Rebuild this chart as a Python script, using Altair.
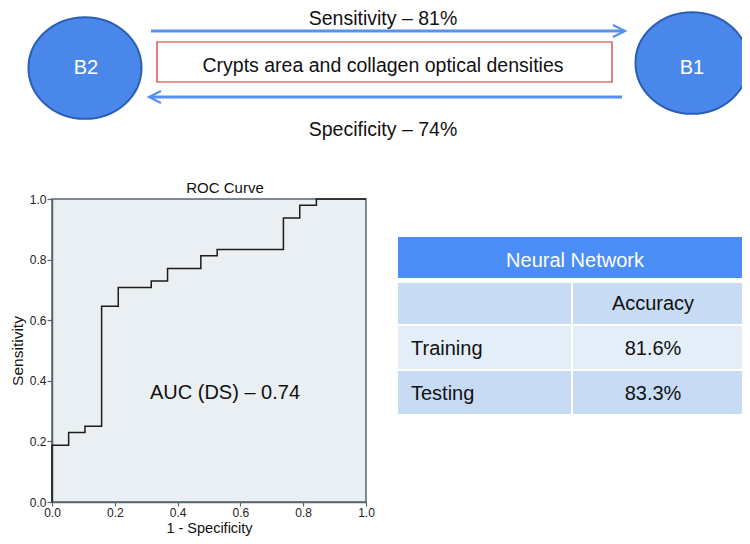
import altair as alt
import pandas as pd

# ---------------- data ----------------
fpr = [0.0, 0.0, 0.053, 0.105, 0.158, 0.211, 0.316, 0.368, 0.474, 0.526, 0.737, 0.789, 0.842, 1.0]
tpr = [0.0, 0.1875, 0.229, 0.25, 0.646, 0.708, 0.729, 0.771, 0.8125, 0.833, 0.9375, 0.979, 1.0, 1.0]
axis_ticks = [0.0, 0.2, 0.4, 0.6, 0.8, 1.0]
roc_title = "ROC Curve"
auc_label = "AUC (DS) – 0.74"
x_title = "1 - Specificity"
y_title = "Sensitivity"

groups = ["B2", "B1"]
sens_label = "Sensitivity – 81%"
spec_label = "Specificity – 74%"
feature_label = "Crypts area and collagen optical densities"

table_title = "Neural Network"
table_col = "Accuracy"
table_rows = ["Training", "Testing"]
table_vals = ["81.6%", "83.3%"]

# ---------------- layout (page pixels) ----------------
FONT = "Liberation Sans"
OX, OY = 52, 199          # plot origin on the page
W, H = 314, 303


def px(v):
    return v - OX


def py(v):
    return v - OY


ELLIPSE = ("M1,0 C1,0.497 0.552,0.9 0,0.9 C-0.552,0.9 -1,0.497 -1,0 "
           "C-1,-0.497 -0.552,-0.9 0,-0.9 C0.552,-0.9 1,-0.497 1,0 Z")

roc_df = pd.DataFrame({"fpr": fpr, "tpr": tpr, "i": list(range(len(fpr)))})

roc = alt.Chart(roc_df).mark_line(
    interpolate="step-after", color="#1c1c1c", strokeWidth=1.5
).encode(
    x=alt.X("fpr:Q", scale=alt.Scale(domain=[0, 1], nice=False),
            axis=alt.Axis(values=axis_ticks, format=".1f", title=x_title,
                          titlePadding=3, titleFontSize=14.5, tickSize=4,
                          labelPadding=1)),
    y=alt.Y("tpr:Q", scale=alt.Scale(domain=[0, 1], nice=False),
            axis=alt.Axis(values=axis_ticks, format=".1f", title=y_title,
                          titlePadding=4)),
    order="i:Q",
)

PX = dict(scale=None, axis=None)

# ellipses (groups)
ell_df = pd.DataFrame({"x": [px(85), px(692)], "y": [py(68), py(63)]})
ellipses = alt.Chart(ell_df).mark_point(
    shape=ELLIPSE, filled=True, fill="#4a87ea", stroke="#2b5fb4",
    strokeWidth=2, size=12769, opacity=1
).encode(x=alt.X("x:Q", **PX), y=alt.Y("y:Q", **PX))

# arrows
shaft_df = pd.DataFrame({"x": [px(151), px(150)], "x2": [px(624), px(622)],
                         "y": [py(31), py(97)]})
shafts = alt.Chart(shaft_df).mark_rule(color="#5591f0", strokeWidth=3).encode(
    x=alt.X("x:Q", **PX), x2="x2:Q", y=alt.Y("y:Q", **PX))

head_df = pd.DataFrame({"x": [px(619), px(155)], "y": [py(31), py(97)],
                        "shape": ["M-1,-1L1,0L-1,1", "M1,-1L-1,0L1,1"]})
heads = alt.Chart(head_df).mark_point(
    filled=False, color="#5591f0", strokeWidth=2.2, size=144, opacity=1
).encode(x=alt.X("x:Q", **PX), y=alt.Y("y:Q", **PX),
         shape=alt.Shape("shape:N", scale=None))

# red box
box_df = pd.DataFrame({"x": [px(157)], "x2": [px(612)], "y": [py(42)], "y2": [py(82)]})
box = alt.Chart(box_df).mark_rect(fill="white", stroke="#d52a2d", strokeWidth=1.2).encode(
    x=alt.X("x:Q", **PX), x2="x2:Q", y=alt.Y("y:Q", **PX), y2="y2:Q")

# table cells
TL, TM, TR = 398, 572, 747
cells = [
    (TL, TR, 237, 278, "#4b8df6"),
    (TL, TM - 1, 283, 324, "#c7dcf4"), (TM + 1, TR, 283, 324, "#c7dcf4"),
    (TL, TM - 1, 326, 369, "#e3eef9"), (TM + 1, TR, 326, 369, "#e3eef9"),
    (TL, TM - 1, 371, 414, "#c7dcf4"), (TM + 1, TR, 371, 414, "#c7dcf4"),
]
cell_df = pd.DataFrame({
    "x": [px(c[0]) for c in cells], "x2": [px(c[1]) for c in cells],
    "y": [py(c[2]) for c in cells], "y2": [py(c[3]) for c in cells],
    "fill": [c[4] for c in cells]})
table = alt.Chart(cell_df).mark_rect().encode(
    x=alt.X("x:Q", **PX), x2="x2:Q", y=alt.Y("y:Q", **PX), y2="y2:Q",
    color=alt.Color("fill:N", scale=None))

# centered texts
ctext = [
    (sens_label, 383, 19, 19.5, "#111111"),
    (spec_label, 383, 129.5, 19.5, "#111111"),
    (feature_label, 383, 66, 19.5, "#111111"),
    (groups[0], 86, 68, 20, "#ffffff"),
    (groups[1], 692, 68, 20, "#ffffff"),
    (roc_title, 225, 188, 15, "#111111"),
    (auc_label, 225, 393, 20, "#111111"),
    (table_title, 575, 261, 20, "#ffffff"),
    (table_col, 653, 304, 20, "#111111"),
    (table_vals[0], 653, 349, 20, "#111111"),
    (table_vals[1], 653, 393.5, 20, "#111111"),
]
ct_df = pd.DataFrame({"t": [c[0] for c in ctext], "x": [px(c[1]) for c in ctext],
                      "y": [py(c[2]) for c in ctext], "s": [c[3] for c in ctext],
                      "c": [c[4] for c in ctext]})
ctexts = alt.Chart(ct_df).mark_text(font=FONT, align="center", baseline="middle").encode(
    x=alt.X("x:Q", **PX), y=alt.Y("y:Q", **PX), text="t:N",
    size=alt.Size("s:Q", scale=None), color=alt.Color("c:N", scale=None))

ltext = [(table_rows[0], 411, 349), (table_rows[1], 411, 393.5)]
lt_df = pd.DataFrame({"t": [c[0] for c in ltext], "x": [px(c[1]) for c in ltext],
                      "y": [py(c[2]) for c in ltext]})
ltexts = alt.Chart(lt_df).mark_text(font=FONT, align="left", baseline="middle",
                                     fontSize=20, color="#111111").encode(
    x=alt.X("x:Q", **PX), y=alt.Y("y:Q", **PX), text="t:N")

chart = alt.layer(
    roc, ellipses, shafts, heads, box, table, ctexts, ltexts
).resolve_scale(x="independent", y="independent").properties(
    width=W, height=H,
    autosize=alt.AutoSizeParams(type="none"),
    padding={"left": OX - 8, "top": OY - 8, "right": 734 - (OX - 8) - W,
             "bottom": 528 - (OY - 8) - H},
    background="white",
).configure_view(
    fill="#e9eff3", stroke="#56666c", strokeWidth=1.5
).configure_axis(
    grid=False, domainColor="#56666c", domainWidth=1.5, tickColor="#56666c",
    tickWidth=1.2, tickSize=5, labelFont=FONT, labelFontSize=12,
    labelColor="#222222", titleFont=FONT, titleFontSize=15.5,
    titleFontWeight="normal", titleColor="#111111", labelPadding=1,
    labelFlush=False, labelOverlap=False,
)

chart.save("out.html", embed_options={"renderer": "svg", "actions": False})
